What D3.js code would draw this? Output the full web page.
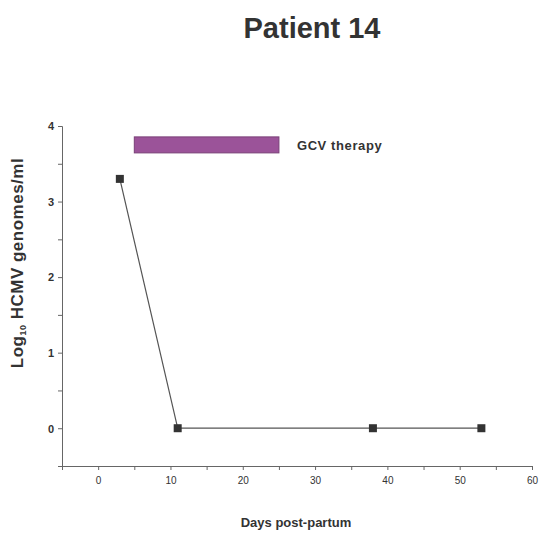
<!DOCTYPE html>
<html>
<head>
<meta charset="utf-8">
<script src="https://cdn.jsdelivr.net/npm/d3@7"></script>
<style>
  body { margin: 0; background: #fff; }
  text { font-family: "Liberation Sans", Arial, sans-serif; fill: #333; }
</style>
</head>
<body>
<svg id="chart" width="541" height="540"></svg>
<script>
const days = [3, 11, 38, 53]
const log10Genomes = [3.3, 0, 0, 0]
const therapy = { label: "GCV therapy", start: 5, end: 25, level: 3.75 }
const xTicks = [0, 10, 20, 30, 40, 50, 60]
const yTicks = [0, 1, 2, 3, 4]

const svg = d3.select("#chart")

const x = d3.scaleLinear().domain([-5, 60]).range([62, 532])
const y = d3.scaleLinear().domain([-0.5, 4]).range([466, 126])

// title
svg.append("text")
  .attr("x", 312).attr("y", 38)
  .attr("text-anchor", "middle")
  .style("font-size", "29px").style("font-weight", "bold")
  .text("Patient 14")

// axes
const xAxis = svg.append("g").attr("transform", `translate(0,${y(-0.5)})`)
xAxis.call(d3.axisBottom(x).tickValues(d3.range(-5, 61, 5)).tickSize(4).tickFormat(""))
xAxis.selectAll(".tick").filter(d => xTicks.includes(d)).append("text")
  .attr("y", 18).attr("text-anchor", "middle")
  .style("font-size", "10px").text(d => d)

const yAxis = svg.append("g").attr("transform", `translate(${x(-5)},0)`)
yAxis.call(d3.axisLeft(y).tickValues(d3.range(-0.5, 4.01, 0.5)).tickSize(4).tickFormat(""))
yAxis.selectAll(".tick").filter(d => yTicks.includes(d)).append("text")
  .attr("x", -8).attr("dy", "0.35em").attr("text-anchor", "end")
  .style("font-size", "11px").style("font-weight", "bold").text(d => d)

svg.selectAll(".domain, .tick line").attr("stroke", "#666")

// therapy bar
svg.append("rect")
  .attr("x", x(therapy.start)).attr("width", x(therapy.end) - x(therapy.start))
  .attr("y", y(therapy.level) - 8).attr("height", 16)
  .attr("fill", "#9b5399").attr("stroke", "#7a4078")
svg.append("text")
  .attr("x", x(therapy.end) + 18).attr("y", y(therapy.level) + 5)
  .style("font-size", "13px").style("font-weight", "bold")
  .style("letter-spacing", "0.6px")
  .text(therapy.label)

// series
const pts = days.map((d, i) => [d, log10Genomes[i]])
svg.append("path")
  .datum(pts)
  .attr("fill", "none").attr("stroke", "#555").attr("stroke-width", 1.2)
  .attr("d", d3.line().x(d => x(d[0])).y(d => y(d[1])))
svg.selectAll("rect.pt").data(pts).enter().append("rect")
  .attr("class", "pt")
  .attr("x", d => x(d[0]) - 4).attr("y", d => y(d[1]) - 4)
  .attr("width", 8).attr("height", 8)
  .attr("fill", "#333")

// axis labels
svg.append("text")
  .attr("x", 296).attr("y", 527)
  .attr("text-anchor", "middle")
  .style("font-size", "13px").style("font-weight", "bold")
  .text("Days post-partum")

const yl = svg.append("text")
  .attr("transform", "translate(23,263) rotate(-90)")
  .attr("text-anchor", "middle")
  .style("font-size", "17px").style("font-weight", "bold")
  .style("letter-spacing", "0.5px")
yl.append("tspan").text("Log")
yl.append("tspan").attr("dy", 3).style("font-size", "9px").text("10")
yl.append("tspan").attr("dy", -3).text(" HCMV genomes/ml")
</script>
</body>
</html>
